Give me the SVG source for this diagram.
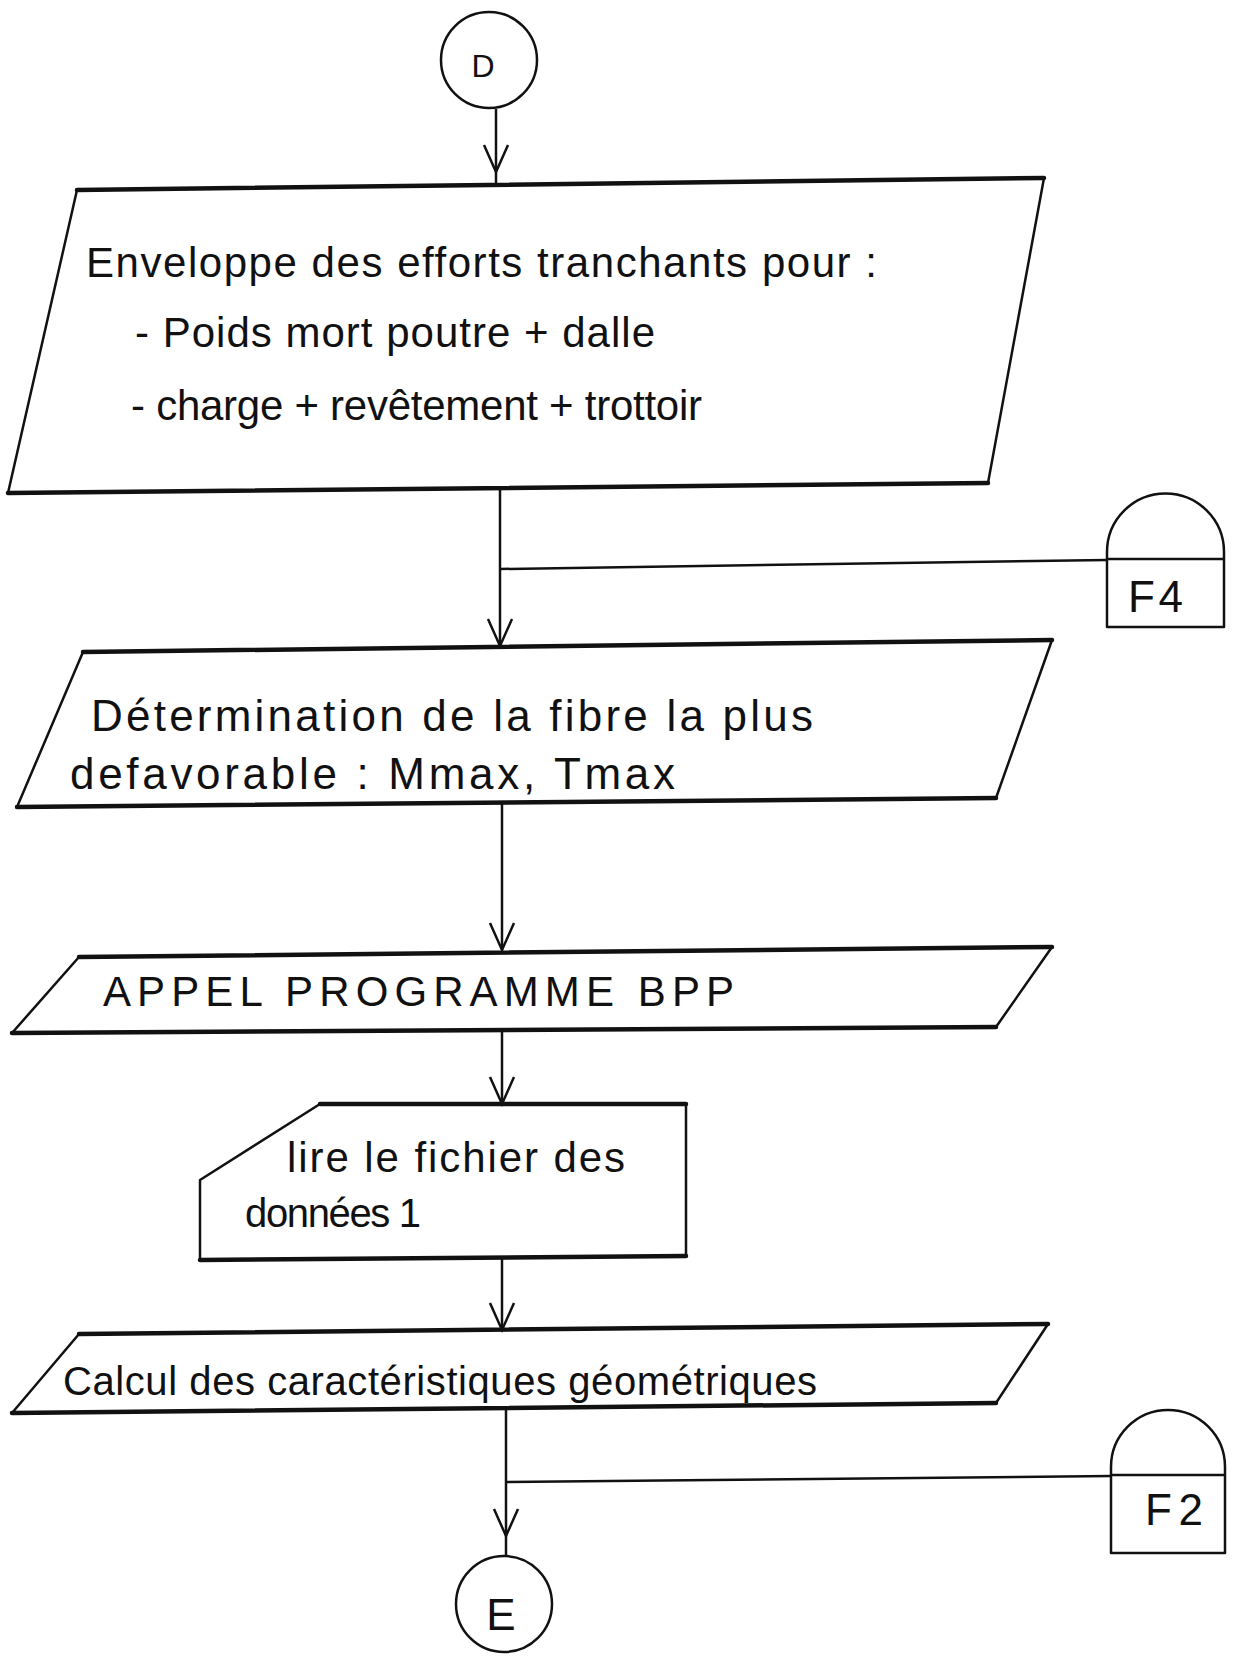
<svg xmlns="http://www.w3.org/2000/svg" width="1238" height="1656" viewBox="0 0 1238 1656">
<style>
.sh{fill:none;stroke:#111;stroke-width:2.5;stroke-linejoin:round}
.ed{fill:none;stroke:#111;stroke-width:4.5;stroke-linecap:round}
.ln{fill:none;stroke:#111;stroke-width:2.5}
.t{font-family:"Liberation Sans",Arial,sans-serif;fill:#111}
</style>
<defs>
<marker id="v" markerUnits="userSpaceOnUse" viewBox="-30 -15 34 30" refX="0" refY="0" markerWidth="34" markerHeight="30" orient="auto">
<path d="M-27,-12 L0,0 L-27,12" fill="none" stroke="#111" stroke-width="2.5"/>
</marker>
</defs>
<rect width="1238" height="1656" fill="#fff"/>

<g id="connectors">
<path class="ln" d="M496,109 L496,172 L496,185" marker-mid="url(#v)"/>
<path class="ln" d="M500,488 L500,646" marker-end="url(#v)"/>
<path class="ln" d="M500,569 L1107,560"/>
<path class="ln" d="M502,803 L502,950" marker-end="url(#v)"/>
<path class="ln" d="M502,1030 L502,1104" marker-end="url(#v)"/>
<path class="ln" d="M502,1258 L502,1330" marker-end="url(#v)"/>
<path class="ln" d="M506,1408 L506,1536 L506,1556" marker-mid="url(#v)"/>
<path class="ln" d="M506,1482 L1111,1476"/>
</g>

<g id="node-D">
<circle class="sh" cx="489" cy="60" r="48" stroke-width="3"/>
<text class="t" x="483" y="77" font-size="32" text-anchor="middle">D</text>
</g>

<g id="node-enveloppe">
<polygon class="sh" points="77,190 1044,178 988,483 8,493"/>
<path class="ed" d="M77,190 L1044,178 M8,493 L988,483"/>
<text class="t" x="86" y="277" font-size="42" textLength="791">Enveloppe des efforts tranchants pour :</text>
<text class="t" x="135" y="347" font-size="42" textLength="520">- Poids mort poutre + dalle</text>
<text class="t" x="131" y="420" font-size="42" textLength="571">- charge + revêtement + trottoir</text>
</g>

<g id="node-F4">
<path class="sh" d="M1107,559 L1107,552 A58.5,58.5 0 0 1 1224,552 L1224,627 L1107,627 Z M1107,559 L1224,559" stroke-width="3"/>
<text class="t" x="1128" y="612" font-size="44" textLength="55">F4</text>
</g>

<g id="node-determination">
<polygon class="sh" points="83,652 1052,640 996,798 17,807"/>
<path class="ed" d="M83,652 L1052,640 M17,807 L996,798"/>
<text class="t" x="91" y="731" font-size="44" textLength="722">Détermination de la fibre la plus</text>
<text class="t" x="70" y="789" font-size="44" textLength="605">defavorable : Mmax, Tmax</text>
</g>

<g id="node-appel">
<polygon class="sh" points="79,957 1052,947 996,1027 12,1033"/>
<path class="ed" d="M79,957 L1052,947 M12,1033 L996,1027"/>
<text class="t" x="103" y="1006" font-size="42" textLength="631">APPEL PROGRAMME BPP</text>
</g>

<g id="node-lire">
<polygon class="sh" points="320,1104 686,1104 686,1256 200,1260 200,1180"/>
<path class="ed" d="M320,1104 L686,1104 M200,1260 L686,1256"/>
<text class="t" x="287" y="1172" font-size="42" textLength="338">lire le fichier des</text>
<text class="t" x="245" y="1227" font-size="40" textLength="176">données 1</text>
</g>

<g id="node-calcul">
<polygon class="sh" points="79,1334 1048,1324 996,1403 12,1413"/>
<path class="ed" d="M79,1334 L1048,1324 M12,1413 L996,1403"/>
<text class="t" x="63" y="1395" font-size="40" textLength="754">Calcul des caractéristiques géométriques</text>
</g>

<g id="node-F2">
<path class="sh" d="M1111,1475 L1111,1467 A57,57 0 0 1 1225,1467 L1225,1553 L1111,1553 Z M1111,1475 L1225,1475" stroke-width="3"/>
<text class="t" x="1145" y="1525" font-size="44" textLength="58">F2</text>
</g>

<g id="node-E">
<circle class="sh" cx="504" cy="1604" r="48" stroke-width="3"/>
<text class="t" x="501" y="1630" font-size="44" text-anchor="middle">E</text>
</g>
</svg>
